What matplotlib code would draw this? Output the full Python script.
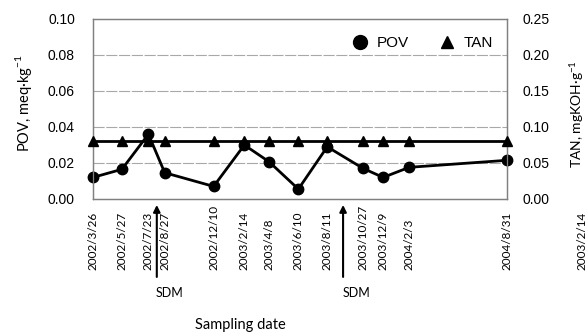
import matplotlib
matplotlib.use("Agg")
import matplotlib.pyplot as plt
import matplotlib.dates as mdates
from matplotlib.lines import Line2D
from datetime import datetime

# sampling data
dates = ["2002/3/26", "2002/5/27", "2002/7/23", "2002/8/27", "2002/12/10",
         "2003/2/14", "2003/4/8", "2003/6/10", "2003/8/11", "2003/10/27",
         "2003/12/9", "2004/2/3", "2004/8/31"]
pov = [0.012, 0.0165, 0.036, 0.0146, 0.007, 0.030, 0.0207, 0.0055,
       0.029, 0.017, 0.012, 0.0176, 0.0215]
tan = [0.08] * 13
sdm_dates = ["2002/8/10", "2003/9/14"]
stray_label = "2003/2/14"

x = [datetime.strptime(d, "%Y/%m/%d") for d in dates]
sdm_x = [mdates.date2num(datetime.strptime(d, "%Y/%m/%d")) for d in sdm_dates]

NUM_FONT = "Liberation Sans"
TXT_FONT = "Lato"
plt.rcParams["mathtext.fontset"] = "custom"
plt.rcParams["mathtext.rm"] = TXT_FONT

fig = plt.figure(figsize=(5.88, 3.35), dpi=100)
ax = fig.add_axes([93 / 588, 1 - 199 / 335, 414 / 588, 180 / 335])
ax2 = ax.twinx()

# Gitter
for v in [0.02, 0.04, 0.06, 0.08]:
    ax.axhline(v, color="#a8a8a8", lw=0.8, ls=(0, (10, 1.5)), zorder=0)

ax.plot(x, pov, color="black", lw=2, marker="o", ms=7.5, clip_on=False, zorder=5)
ax2.plot(x, tan, color="black", lw=2, marker="^", ms=6.5, clip_on=False, zorder=5)

ax.set_xlim(x[0], x[-1])
ax.set_ylim(0, 0.10)
ax2.set_ylim(0, 0.25)
ax.set_yticks([0, 0.02, 0.04, 0.06, 0.08, 0.10])
ax2.set_yticks([0, 0.05, 0.10, 0.15, 0.20, 0.25])
ax.set_yticklabels([f"{v:.2f}" for v in ax.get_yticks()], fontfamily=NUM_FONT, fontsize=10)
ax2.set_yticklabels([f"{v:.2f}" for v in ax2.get_yticks()], fontfamily=NUM_FONT, fontsize=10)

# Datumslabels unten bündig
ax.set_xticks(x)
ax.set_xticklabels(dates, rotation=90, fontfamily=TXT_FONT, fontsize=8.5, va="bottom")
ax.tick_params(axis="y", length=0, pad=13)
ax2.tick_params(axis="y", length=0, pad=11)
ax.tick_params(axis="x", length=0, pad=51)

for a in (ax, ax2):
    for s in a.spines.values():
        s.set_color("#808080")
        s.set_linewidth(0.9)

ax.set_ylabel("POV, meq·kg$^{\\mathregular{-1}}$", fontfamily=TXT_FONT, fontsize=10.5)
ax.yaxis.set_label_coords(-0.143, 0.53)
ax2.set_ylabel("TAN, mgKOH·g$^{\\mathregular{-1}}$", fontfamily=TXT_FONT, fontsize=10)
ax2.yaxis.set_label_coords(1.147, 0.47)

# SDM Pfeile
trans = ax.get_xaxis_transform()
for sx in sdm_x:
    ax.annotate("", xy=(sx, -0.033), xytext=(sx, -0.433), xycoords=trans,
                textcoords=trans, annotation_clip=False,
                arrowprops=dict(arrowstyle="-|>", color="black", lw=1.5,
                                mutation_scale=10, shrinkA=0, shrinkB=0))
    ax.text(sx - 2, -0.52, "SDM", transform=trans, ha="left", va="center",
            fontfamily=TXT_FONT, fontsize=9)

fig.text(240 / 588, 1 - 325 / 335, "Sampling date", ha="center", va="center",
         fontfamily=TXT_FONT, fontsize=10.5)
fig.text(582 / 588, 1 - 270 / 335, stray_label, rotation=90, ha="center",
         va="bottom", fontfamily=TXT_FONT, fontsize=8.5)

handles = [Line2D([], [], ls="none", marker="o", color="black", ms=10),
           Line2D([], [], ls="none", marker="^", color="black", ms=9)]
ax.legend(handles, ["POV", "TAN"], loc="upper right", ncol=2, frameon=False,
          prop={"family": NUM_FONT, "size": 11}, handletextpad=0.1,
          columnspacing=1.5, bbox_to_anchor=(1.0, 0.98))

fig.savefig("out.png", dpi=100)
